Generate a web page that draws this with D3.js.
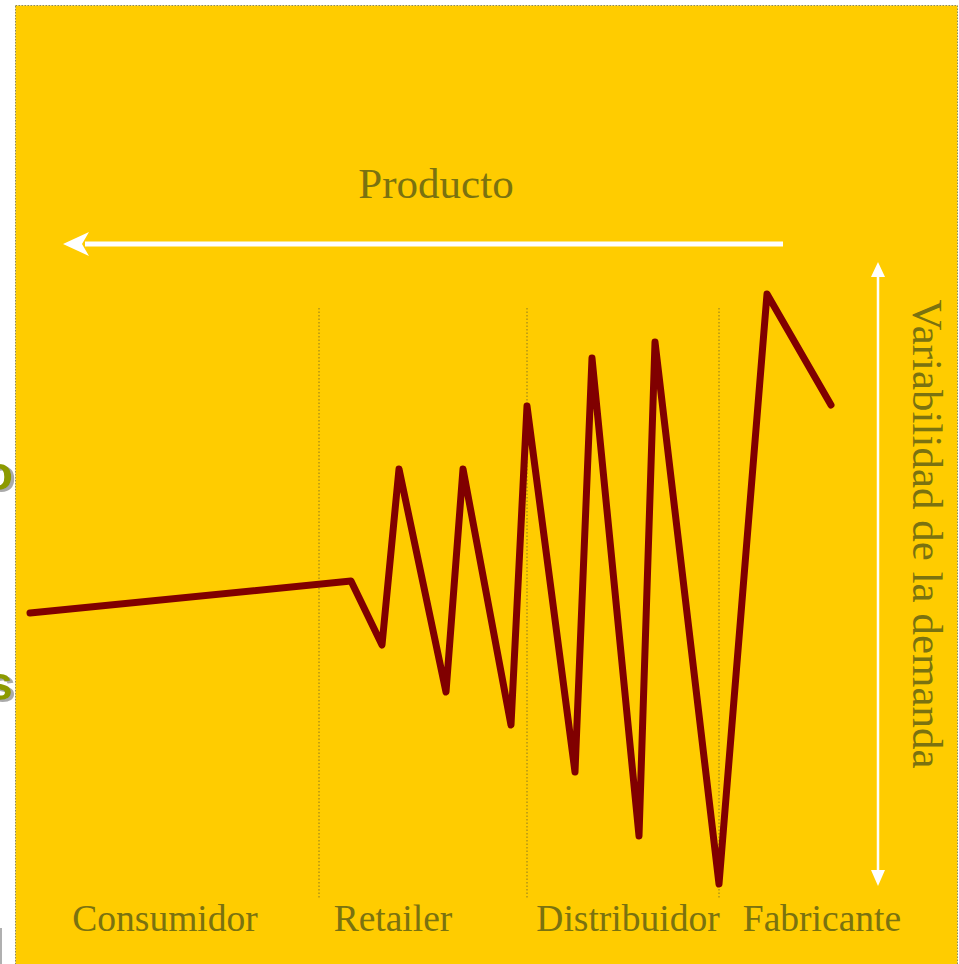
<!DOCTYPE html>
<html>
<head>
<meta charset="utf-8">
<script src="https://cdn.jsdelivr.net/npm/d3@7"></script>
<style>
  html, body { margin: 0; padding: 0; background: #ffffff; }
  svg { display: block; }
</style>
</head>
<body>
<script>
// Bullwhip effect: demand variability grows moving up the supply chain
const stages = ["Consumidor", "Retailer", "Distribuidor", "Fabricante"];
const stageCenters = [135, 363, 598, 792];        // time units
const stageBoundaries = [289, 497, 689];          // time units
const time =   [0, 321, 352, 369, 416, 433, 481, 497, 545, 562, 609, 625, 689, 737, 801];
const demand = [271, 303, 239, 415, 192, 415, 159, 478, 112, 526, 48, 542, 0, 590, 479];
const flowLabel = "Producto";
const axisLabel = "Variabilidad de la demanda";
const marginGlyphs = ["o", "s"];

const W = 959, H = 964;
const x = d3.scaleLinear().domain([0, 800]).range([30, 830]);
const y = d3.scaleLinear().domain([0, 600]).range([884, 284]);

const svg = d3.select("body").append("svg").attr("width", W).attr("height", H);
const olive = "#7a7210";
const serif = "'Liberation Serif', 'Times New Roman', serif";

const defs = svg.append("defs");
defs.append("clipPath").attr("id", "leftClip")
  .append("rect").attr("x", 0).attr("y", 0).attr("width", 15).attr("height", H);
const shadow = defs.append("filter").attr("id", "shadow")
  .attr("x", "-50%").attr("y", "-50%").attr("width", "200%").attr("height", "200%");
shadow.append("feDropShadow").attr("dx", 3).attr("dy", 2).attr("stdDeviation", 0.5)
  .attr("flood-color", "#aaaaaa").attr("flood-opacity", 1);

// title glyphs peeking in from the left margin
svg.append("g").attr("clip-path", "url(#leftClip)")
  .selectAll("text").data(marginGlyphs).join("text")
  .attr("x", 13).attr("y", (d, i) => [490, 700][i]).attr("text-anchor", "end")
  .attr("font-family", "'Liberation Sans', Arial, sans-serif").attr("font-weight", "bold")
  .attr("font-size", 48).attr("fill", "#8c9a00").attr("filter", "url(#shadow)")
  .text(d => d);
svg.append("line").attr("x1", 1).attr("x2", 1).attr("y1", 928).attr("y2", H)
  .attr("stroke", "#b0b0b0").attr("stroke-width", 2);

// yellow panel
svg.append("rect").attr("x", 15.5).attr("y", 5.5).attr("width", 942).attr("height", H)
  .attr("fill", "#ffcc00").attr("stroke", "#8a8a60").attr("stroke-width", 1)
  .attr("stroke-dasharray", "1.5,1.5");

// stage separators
svg.selectAll("line.sep").data(stageBoundaries).join("line").attr("class", "sep")
  .attr("x1", d => x(d)).attr("x2", d => x(d))
  .attr("y1", 308).attr("y2", 898)
  .attr("stroke", "#8a7a20").attr("stroke-width", 1).attr("stroke-dasharray", "1.5,2");

// demand line
svg.append("path").datum(time.map((t, i) => [t, demand[i]]))
  .attr("d", d3.line().x(d => x(d[0])).y(d => y(d[1])))
  .attr("fill", "none").attr("stroke", "#800000").attr("stroke-width", 7)
  .attr("stroke-linejoin", "round").attr("stroke-linecap", "round");

// product flow arrow
svg.append("line").attr("x1", 783).attr("x2", 85).attr("y1", 244).attr("y2", 244)
  .attr("stroke", "#ffffff").attr("stroke-width", 5);
svg.append("path").attr("d", "M63,244 L89,232 L82,244 L89,256 Z").attr("fill", "#ffffff");
svg.append("text").attr("x", 436).attr("y", 198).attr("text-anchor", "middle")
  .attr("font-family", serif).attr("font-size", 43).attr("fill", olive).text(flowLabel);

// variability arrow
svg.append("line").attr("x1", 878).attr("x2", 878).attr("y1", 275).attr("y2", 876)
  .attr("stroke", "#ffffff").attr("stroke-width", 2.5);
svg.append("path").attr("d", "M878,262 L885,277 L871,277 Z").attr("fill", "#ffffff");
svg.append("path").attr("d", "M878,886 L885,870 L871,870 Z").attr("fill", "#ffffff");
svg.append("text").attr("transform", "translate(913,534) rotate(90)")
  .attr("text-anchor", "middle").attr("font-family", serif).attr("font-size", 43)
  .attr("fill", olive).text(axisLabel);

// stage labels
svg.selectAll("text.stage").data(stages).join("text").attr("class", "stage")
  .attr("x", (d, i) => x(stageCenters[i])).attr("y", 931)
  .attr("text-anchor", "middle").attr("font-family", serif).attr("font-size", 37.5)
  .attr("fill", olive).text(d => d);
</script>
</body>
</html>
